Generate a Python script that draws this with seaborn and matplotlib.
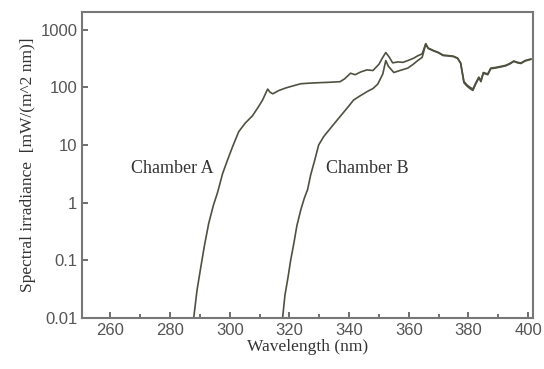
import numpy as np
import pandas as pd
import matplotlib
matplotlib.use("Agg")
import matplotlib.pyplot as plt
import seaborn as sns

# wavelength (nm) and spectral irradiance
wl_a = [287.9, 289.0, 290.2, 291.5, 292.9, 294.5, 295.9, 297.6, 299.3, 301.0,
        303.0, 305.2, 307.6, 309.5, 311.0, 312.0, 312.7, 313.5, 314.4, 316.5,
        318.7, 321.0, 323.8, 327.0, 330.0, 333.5, 337.0, 338.5, 340.5, 342.0,
        344.0, 346.0, 348.0, 350.0, 351.3, 352.3, 353.5, 354.6, 356.5, 358.0,
        359.7, 361.7, 363.0, 364.5, 365.7, 366.5, 368.4, 370.0, 371.5, 373.0,
        375.0, 376.4, 377.4, 378.5, 379.5, 380.5, 381.5, 382.5, 383.5, 384.2,
        385.0, 386.5, 387.5, 389.0, 390.9, 392.5, 394.0, 395.2, 396.5, 397.6,
        399.0, 401.0]
irr_a = [0.01, 0.03, 0.072, 0.18, 0.43, 0.9, 1.5, 3.2, 5.6, 9.5,
         17, 24, 32, 45, 60, 78, 93, 82, 77, 88,
         97, 105, 115, 118, 120, 122, 125, 140, 175, 165,
         185, 200, 195, 250, 330, 400, 330, 265, 275, 270,
         290, 320, 350, 380, 570, 480, 430, 400, 360, 355,
         345, 320, 263, 126, 110, 100, 93, 120, 150, 130,
         180, 170, 215, 220, 230, 240, 260, 285, 270, 263,
         290, 310]

wl_b = [317.7, 318.5, 319.5, 320.4, 321.5, 322.5, 323.8, 325.0, 326.1, 327.1,
        328.5, 329.8, 331.5, 333.8, 336.0, 338.2, 340.0, 341.5, 343.5, 346.2,
        348.0, 349.6, 351.3, 352.3, 353.2, 355.0, 357.0, 359.7, 361.5, 363.0,
        364.5, 365.7, 366.5, 368.4, 370.0, 371.5, 373.0, 375.0, 376.4, 377.4,
        378.5, 379.5, 380.5, 381.5, 382.5, 383.5, 384.2, 385.0, 386.5, 387.5,
        389.0, 390.9, 392.5, 394.0, 395.2, 396.5, 397.6, 399.0, 401.0]
irr_b = [0.01, 0.025, 0.05, 0.1, 0.2, 0.4, 0.75, 1.2, 1.7, 3.0,
         5.5, 10, 14, 19.6, 27, 37, 48, 60, 70, 85,
         95, 113, 170, 290, 230, 180, 195, 215, 250, 290,
         330, 560, 470, 425, 395, 355, 350, 340, 315, 260,
         120, 105, 95, 88, 115, 145, 125, 175, 165, 210,
         215, 225, 235, 255, 280, 265, 258, 285, 305]

x_ticks = [260, 280, 300, 320, 340, 360, 380, 400]
y_ticks = [0.01, 0.1, 1, 10, 100, 1000]
y_tick_labels = ["0.01", "0.1", "1", "10", "100", "1000"]

df = pd.concat([
    pd.DataFrame({"wl": wl_a, "irr": irr_a, "chamber": "A"}),
    pd.DataFrame({"wl": wl_b, "irr": irr_b, "chamber": "B"}),
])

sns.set_style("ticks")
plt.rcParams["font.family"] = ["Liberation Serif", "DejaVu Serif"]

fig = plt.figure(figsize=(5.44, 3.69), dpi=100)
ax = fig.add_axes([0.151, 0.138, 0.829, 0.829])

sns.lineplot(data=df, x="wl", y="irr", hue="chamber", units="chamber",
             estimator=None, palette=["#505040", "#505040"], linewidth=1.2,
             legend=False, ax=ax, sort=False)

ax.set_yscale("log")
ax.set_xlim(250.5, 401.7)
ax.set_ylim(0.01, 2000)
ax.set_xticks(x_ticks)
ax.set_xticks(np.arange(270, 400, 20), minor=True)
ax.set_yticks(y_ticks)
ax.set_yticklabels(y_tick_labels)
ax.yaxis.set_minor_locator(matplotlib.ticker.NullLocator())

for lab in ax.get_xticklabels() + ax.get_yticklabels():
    lab.set_family(["Liberation Sans Narrow", "Liberation Sans", "DejaVu Sans"])
    lab.set_fontsize(12)
    lab.set_color("#555555")

ax.tick_params(which="both", direction="in", color="#555555", width=1.2)
ax.tick_params(which="major", length=4)
ax.tick_params(which="minor", length=3)
for s in ax.spines.values():
    s.set_color("#777777")
    s.set_linewidth(1.5)

ax.set_xlabel("Wavelength (nm)", fontsize=12.5, color="#333333", labelpad=1)
ax.set_ylabel("Spectral irradiance  [mW/(m^2 nm)]", fontsize=12.5,
              color="#333333", labelpad=3)

ax.text(280.8, 3.9, "Chamber A", fontsize=13, color="#333333",
        ha="center", va="center")
ax.text(346.2, 3.9, "Chamber B", fontsize=13, color="#333333",
        ha="center", va="center")

fig.savefig("out.png", dpi=100)
